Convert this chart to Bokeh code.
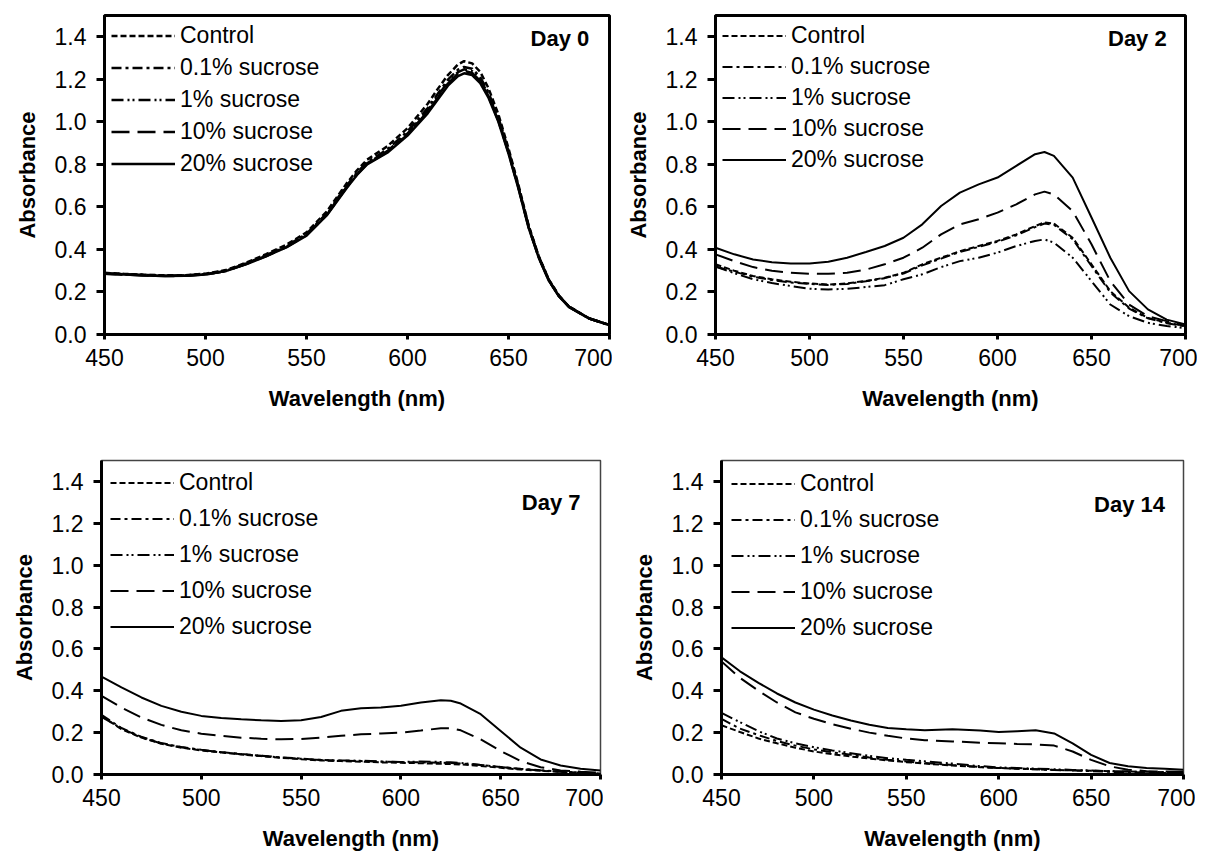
from bokeh.plotting import figure
from bokeh.layouts import column, row
from bokeh.models import Label, NumeralTickFormatter, FixedTicker, Range1d
from bokeh.embed import file_html
from bokeh.resources import INLINE

# ---------------- data ----------------
SERIES = ["Control", "0.1% sucrose", "1% sucrose", "10% sucrose", "20% sucrose"]
XTICKS = [450, 500, 550, 600, 650, 700]
YTICKS = [0.0, 0.2, 0.4, 0.6, 0.8, 1.0, 1.2, 1.4]
DAYS = ["Day 0", "Day 2", "Day 7", "Day 14"]

wl_day0 = [450, 460, 470, 480, 490, 500, 510, 520, 530, 540, 550, 560, 570, 575, 580, 590, 600,
           610, 615, 620, 625, 628, 632, 636, 640, 645, 650, 655, 660, 665, 670, 675, 680, 690, 700]
day0_control = [0.290, 0.285, 0.281, 0.278, 0.279, 0.286, 0.303, 0.337, 0.378, 0.422, 0.480, 0.578,
                0.712, 0.772, 0.822, 0.885, 0.970, 1.085, 1.155, 1.220, 1.270, 1.285, 1.275, 1.235,
                1.160, 1.035, 0.875, 0.700, 0.512, 0.368, 0.258, 0.183, 0.131, 0.076, 0.045]
day0_s01 = [0.288, 0.284, 0.280, 0.277, 0.278, 0.284, 0.300, 0.334, 0.373, 0.416, 0.473, 0.570,
            0.702, 0.762, 0.810, 0.870, 0.955, 1.065, 1.132, 1.198, 1.245, 1.258, 1.250, 1.210,
            1.140, 1.020, 0.865, 0.693, 0.508, 0.366, 0.256, 0.182, 0.130, 0.075, 0.044]
day0_s1 = [0.287, 0.283, 0.279, 0.276, 0.277, 0.283, 0.299, 0.332, 0.370, 0.413, 0.469, 0.565,
           0.696, 0.756, 0.805, 0.862, 0.945, 1.055, 1.122, 1.187, 1.234, 1.247, 1.238, 1.200,
           1.130, 1.012, 0.860, 0.690, 0.505, 0.364, 0.255, 0.181, 0.130, 0.075, 0.044]
day0_s10 = [0.286, 0.282, 0.278, 0.275, 0.276, 0.282, 0.298, 0.331, 0.369, 0.411, 0.467, 0.562,
            0.693, 0.753, 0.802, 0.858, 0.940, 1.048, 1.113, 1.180, 1.228, 1.240, 1.230, 1.192,
            1.122, 1.005, 0.855, 0.687, 0.503, 0.362, 0.254, 0.180, 0.130, 0.075, 0.044]
day0_s20 = [0.286, 0.282, 0.278, 0.275, 0.276, 0.282, 0.298, 0.330, 0.368, 0.410, 0.465, 0.560,
            0.690, 0.750, 0.800, 0.855, 0.935, 1.040, 1.105, 1.170, 1.215, 1.228, 1.220, 1.182,
            1.115, 1.000, 0.850, 0.683, 0.500, 0.360, 0.252, 0.179, 0.129, 0.075, 0.044]

wl_day2 = [450, 460, 470, 480, 490, 500, 510, 520, 530, 540, 550, 560, 570, 580, 590, 600, 610,
           620, 625, 630, 640, 650, 660, 670, 680, 690, 700]
day2_control = [0.330, 0.300, 0.275, 0.260, 0.248, 0.240, 0.235, 0.240, 0.252, 0.267, 0.290, 0.330,
                0.361, 0.392, 0.416, 0.440, 0.471, 0.510, 0.527, 0.522, 0.455, 0.330, 0.204, 0.126,
                0.078, 0.055, 0.040]
day2_s01 = [0.320, 0.295, 0.272, 0.256, 0.245, 0.238, 0.233, 0.238, 0.250, 0.265, 0.287, 0.325,
            0.357, 0.388, 0.412, 0.436, 0.466, 0.505, 0.522, 0.516, 0.448, 0.322, 0.198, 0.122,
            0.076, 0.053, 0.038]
day2_s1 = [0.320, 0.288, 0.260, 0.242, 0.228, 0.215, 0.212, 0.215, 0.223, 0.232, 0.260, 0.283,
           0.317, 0.345, 0.361, 0.385, 0.416, 0.440, 0.447, 0.432, 0.361, 0.251, 0.141, 0.086,
           0.055, 0.040, 0.030]
day2_s10 = [0.377, 0.345, 0.317, 0.300, 0.290, 0.286, 0.286, 0.290, 0.305, 0.330, 0.361, 0.408,
            0.471, 0.518, 0.542, 0.573, 0.612, 0.659, 0.672, 0.659, 0.580, 0.424, 0.251, 0.141,
            0.086, 0.063, 0.040]
day2_s20 = [0.408, 0.377, 0.353, 0.340, 0.334, 0.334, 0.342, 0.361, 0.388, 0.416, 0.455, 0.518,
            0.604, 0.667, 0.706, 0.738, 0.793, 0.848, 0.858, 0.840, 0.738, 0.550, 0.361, 0.204,
            0.118, 0.070, 0.047]

wl_day7 = [450, 460, 470, 480, 490, 500, 510, 520, 530, 540, 550, 560, 570, 580, 590, 600, 610,
           620, 625, 630, 640, 650, 660, 670, 680, 690, 700]
day7_control = [0.280, 0.216, 0.176, 0.147, 0.128, 0.115, 0.105, 0.096, 0.088, 0.080, 0.073, 0.067,
                0.064, 0.061, 0.058, 0.056, 0.054, 0.051, 0.050, 0.048, 0.040, 0.032, 0.024, 0.018,
                0.013, 0.008, 0.003]
day7_s01 = [0.285, 0.222, 0.180, 0.150, 0.131, 0.118, 0.107, 0.098, 0.090, 0.082, 0.076, 0.070,
            0.066, 0.064, 0.061, 0.059, 0.058, 0.056, 0.055, 0.053, 0.045, 0.036, 0.027, 0.020,
            0.014, 0.009, 0.004]
day7_s1 = [0.275, 0.220, 0.178, 0.148, 0.130, 0.117, 0.106, 0.097, 0.089, 0.081, 0.075, 0.069,
           0.067, 0.066, 0.062, 0.060, 0.062, 0.060, 0.058, 0.055, 0.046, 0.036, 0.026, 0.019,
           0.013, 0.008, 0.004]
day7_s10 = [0.376, 0.320, 0.272, 0.237, 0.211, 0.195, 0.185, 0.176, 0.171, 0.168, 0.170, 0.176,
            0.185, 0.192, 0.196, 0.200, 0.210, 0.221, 0.221, 0.211, 0.168, 0.112, 0.064, 0.035,
            0.019, 0.013, 0.008]
day7_s20 = [0.467, 0.416, 0.368, 0.328, 0.300, 0.280, 0.270, 0.264, 0.259, 0.256, 0.259, 0.275,
            0.304, 0.317, 0.320, 0.328, 0.344, 0.355, 0.352, 0.339, 0.288, 0.208, 0.128, 0.072,
            0.043, 0.027, 0.019]

wl_day14 = [450, 460, 470, 480, 490, 500, 510, 520, 530, 540, 550, 560, 575, 590, 600, 610, 620,
            630, 640, 650, 660, 670, 680, 690, 700]
day14_control = [0.235, 0.203, 0.172, 0.149, 0.128, 0.110, 0.097, 0.086, 0.076, 0.067, 0.059, 0.052,
                 0.043, 0.035, 0.031, 0.028, 0.025, 0.022, 0.020, 0.018, 0.016, 0.014, 0.013, 0.011,
                 0.009]
day14_s01 = [0.266, 0.219, 0.188, 0.160, 0.138, 0.120, 0.106, 0.094, 0.081, 0.070, 0.062, 0.055,
             0.045, 0.036, 0.031, 0.028, 0.025, 0.022, 0.019, 0.016, 0.013, 0.011, 0.009, 0.007,
             0.006]
day14_s1 = [0.294, 0.250, 0.207, 0.172, 0.149, 0.130, 0.115, 0.102, 0.089, 0.078, 0.070, 0.063,
            0.052, 0.040, 0.034, 0.031, 0.028, 0.025, 0.022, 0.019, 0.016, 0.014, 0.013, 0.011,
            0.009]
day14_s10 = [0.540, 0.462, 0.400, 0.344, 0.297, 0.266, 0.240, 0.219, 0.200, 0.185, 0.172, 0.164,
             0.158, 0.152, 0.149, 0.146, 0.144, 0.138, 0.110, 0.070, 0.039, 0.023, 0.016, 0.014,
             0.013]
day14_s20 = [0.560, 0.493, 0.438, 0.387, 0.344, 0.310, 0.282, 0.258, 0.238, 0.222, 0.216, 0.211,
             0.216, 0.210, 0.203, 0.207, 0.211, 0.196, 0.149, 0.094, 0.055, 0.039, 0.031, 0.027,
             0.023]

# ---------------- styling ----------------
FONT = "Liberation Sans"
DASHES = ["6 3", "10 4 3 4", "12 4 2 3 2 4", "18 8", "solid"]

panels = [
    dict(day=DAYS[0], wl=wl_day0, ys=[day0_control, day0_s01, day0_s1, day0_s10, day0_s20],
         w=612, h=413, bl=104, br=3, bt=14, bb=78, lw=2.5, outline=3, ocol="black",
         spacing=5, legm=7, lab_y=1.39),
    dict(day=DAYS[1], wl=wl_day2, ys=[day2_control, day2_s01, day2_s1, day2_s10, day2_s20],
         w=585, h=413, bl=103, br=12, bt=15, bb=77, lw=2.0, outline=3, ocol="black",
         spacing=4, legm=7, lab_y=1.39),
    dict(day=DAYS[2], wl=wl_day7, ys=[day7_control, day7_s01, day7_s1, day7_s10, day7_s20],
         w=603, h=441, bl=101, br=3, bt=47, bb=80, lw=2.0, outline=1.5, ocol="#444444",
         spacing=9, legm=9, lab_y=1.30),
    dict(day=DAYS[3], wl=wl_day14, ys=[day14_control, day14_s01, day14_s1, day14_s10, day14_s20],
         w=592, h=441, bl=118, br=12, bt=47, bb=77, lw=2.0, outline=1.5, ocol="#444444",
         spacing=9, legm=10, lab_y=1.29),
]

figs = []
for pn in panels:
    p = figure(width=pn["w"], height=pn["h"], output_backend="svg", toolbar_location=None,
               x_range=Range1d(450, 700), y_range=Range1d(0, 1.5),
               min_border_left=pn["bl"], min_border_right=pn["br"],
               min_border_top=pn["bt"], min_border_bottom=pn["bb"])
    p.grid.visible = False
    p.outline_line_color = pn["ocol"]
    p.outline_line_width = pn["outline"]
    p.background_fill_color = "white"
    p.border_fill_color = "white"

    for name, ys, dash in zip(SERIES, pn["ys"], DASHES):
        p.line(pn["wl"], ys, line_color="black", line_width=pn["lw"], line_dash=dash,
               legend_label=name)

    for ax in (p.xaxis[0], p.yaxis[0]):
        ax.axis_line_width = 3
        ax.axis_line_color = "black"
        ax.major_tick_line_width = 3
        ax.major_tick_line_color = "black"
        ax.major_tick_in = 0
        ax.minor_tick_line_color = None
        ax.major_label_text_font = FONT
        ax.major_label_text_font_size = "23px"
        ax.major_label_text_color = "black"
        ax.axis_label_text_font = FONT
        ax.axis_label_text_font_size = "22px"
        ax.axis_label_text_font_style = "bold"
        ax.axis_label_text_color = "black"

    p.xaxis.ticker = FixedTicker(ticks=XTICKS)
    p.yaxis.ticker = FixedTicker(ticks=YTICKS)
    p.yaxis.formatter = NumeralTickFormatter(format="0.0")
    p.xaxis.major_tick_out = 5
    p.yaxis.major_tick_out = 8
    p.xaxis.major_label_standoff = 9
    p.yaxis.major_label_standoff = 10
    p.xaxis.axis_label = "Wavelength (nm)"
    p.yaxis.axis_label = "Absorbance"
    p.xaxis.axis_label_standoff = 17
    p.yaxis.axis_label_standoff = 12

    lg = p.legend[0]
    lg.location = "top_left"
    lg.margin = pn["legm"]
    lg.padding = 0
    lg.border_line_color = None
    lg.background_fill_alpha = 0
    lg.label_text_font = FONT
    lg.label_text_font_size = "23px"
    lg.label_text_color = "black"
    lg.glyph_width = 64
    lg.glyph_height = 27
    lg.label_height = 27
    lg.label_standoff = 5
    lg.spacing = pn["spacing"]

    p.add_layout(Label(x=690, y=pn["lab_y"], text=pn["day"], text_align="right",
                       text_baseline="middle", text_font=FONT, text_font_size="22px",
                       text_font_style="bold", text_color="black"))
    figs.append(p)

layout = column(row(figs[0], figs[1]), row(figs[2], figs[3]))
open("out.html", "w").write(file_html(layout, INLINE))
